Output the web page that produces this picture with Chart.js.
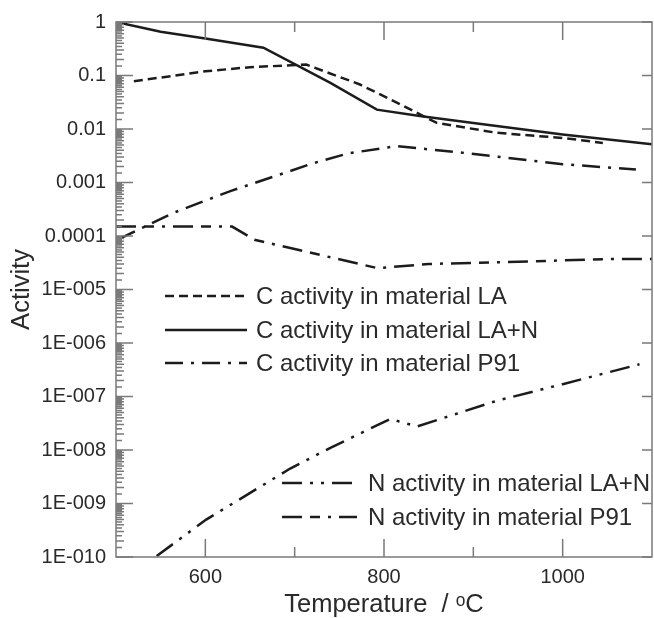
<!DOCTYPE html>
<html>
<head>
<meta charset="utf-8">
<script src="https://cdn.jsdelivr.net/npm/chart.js@4.4.0/dist/chart.umd.min.js"></script>
<style>
  html, body { margin: 0; padding: 0; background: #fff; }
  canvas { display: block; }
</style>
</head>
<body>
<canvas id="activityChart" width="654" height="618"></canvas>
<script>
// Temperatures (oC) and activities
const tempCLA = [520, 600, 650, 713, 773, 820, 859, 926, 1000, 1045];
const actCLA = [0.078, 0.12, 0.143, 0.16, 0.068, 0.028, 0.013, 0.0085, 0.0068, 0.0055];

const tempCLAN = [500, 550, 600, 630, 665, 740, 792, 840, 900, 1000, 1100];
const actCLAN = [1, 0.66, 0.49, 0.41, 0.33, 0.073, 0.023, 0.0175, 0.013, 0.0079, 0.0052];

const tempCP91 = [503, 564, 628, 680, 721, 760, 814, 888, 1000, 1082];
const actCP91 = [8.7e-5, 2.7e-4, 6.9e-4, 1.35e-3, 2.3e-3, 3.5e-3, 4.8e-3, 3.6e-3, 2.2e-3, 1.75e-3];

const tempNLAN = [500, 544, 601, 695, 740, 807, 837, 926, 1000, 1086];
const actNLAN = [3e-11, 1e-10, 5e-10, 4.5e-9, 1.1e-8, 3.8e-8, 2.75e-8, 8.3e-8, 1.7e-7, 4.0e-7];

const tempNP91 = [500, 630, 655, 700, 740, 793, 850, 950, 1050, 1100];
const actNP91 = [1.5e-4, 1.5e-4, 8.5e-5, 5.7e-5, 4e-5, 2.5e-5, 3.0e-5, 3.3e-5, 3.7e-5, 3.7e-5];

const seriesNames = [
    'C activity in material LA',
    'C activity in material LA+N',
    'C activity in material P91',
    'N activity in material LA+N',
    'N activity in material P91'
];

// Axis ticks
const xLabelTicks = [600, 800, 1000];
const xMinorTicks = [700, 900];
const yTickValues = [1, 0.1, 0.01, 0.001, 0.0001, 1e-5, 1e-6, 1e-7, 1e-8, 1e-9, 1e-10];
const yTickLabels = ['1', '0.1', '0.01', '0.001', '0.0001', '1E-005', '1E-006', '1E-007', '1E-008', '1E-009', '1E-010'];
const yMinorSteps = [1.5, 2, 2.5, 3, 3.5, 4, 4.5, 5, 5.5, 6, 6.5, 7, 7.5, 8, 8.5, 9, 9.5];

const toPoints = (xs, ys) => xs.map((x, i) => ({ x: x, y: ys[i] }));

const lineColor = '#1c1c1c';
const frameColor = '#7a7a7a';
const textColor = '#2a2a2a';
const fontFamily = "'Liberation Sans', Arial, sans-serif";

function makeDataset(label, xs, ys, dash) {
    return {
        label: label,
        data: toPoints(xs, ys),
        borderColor: lineColor,
        borderWidth: 2.5,
        borderDash: dash,
        pointRadius: 0,
        tension: 0,
        fill: false
    };
}

// Frame, inner ticks and the two legend boxes
const framePlugin = {
    id: 'framePlugin',
    afterDraw(chart) {
        const ctx = chart.ctx;
        const a = chart.chartArea;
        const xs = chart.scales.x;
        const ys = chart.scales.y;
        ctx.save();
        ctx.strokeStyle = frameColor;
        ctx.lineWidth = 1.5;
        ctx.setLineDash([]);
        ctx.strokeRect(a.left, a.top, a.right - a.left, a.bottom - a.top);

        ctx.beginPath();
        // x ticks bottom and top
        xLabelTicks.forEach(v => {
            const px = xs.getPixelForValue(v);
            ctx.moveTo(px, a.bottom); ctx.lineTo(px, a.bottom - 18);
            ctx.moveTo(px, a.top); ctx.lineTo(px, a.top + 18);
        });
        xMinorTicks.forEach(v => {
            const px = xs.getPixelForValue(v);
            ctx.moveTo(px, a.bottom); ctx.lineTo(px, a.bottom - 10);
            ctx.moveTo(px, a.top); ctx.lineTo(px, a.top + 10);
        });
        // y ticks left (major + minor) and right (major)
        yTickValues.forEach(v => {
            const py = ys.getPixelForValue(v);
            ctx.moveTo(a.left, py); ctx.lineTo(a.left + 17, py);
            ctx.moveTo(a.right, py); ctx.lineTo(a.right - 10, py);
            if (v < 1) {
                yMinorSteps.forEach(m => {
                    const pm = ys.getPixelForValue(v * m);
                    const len = Number.isInteger(m) ? 8 : 6;
                    ctx.moveTo(a.left, pm); ctx.lineTo(a.left + len, pm);
                });
            }
        });
        ctx.stroke();

        // legends
        const groups = [
            { items: [0, 1, 2], x0: 165, x1: 247, tx: 256, y: [296, 330, 363] },
            { items: [3, 4], x0: 282, x1: 357, tx: 368, y: [483, 517] }
        ];
        ctx.font = '24px ' + fontFamily;
        ctx.textBaseline = 'middle';
        ctx.textAlign = 'left';
        groups.forEach(g => {
            g.items.forEach((idx, r) => {
                const ds = chart.data.datasets[idx];
                ctx.strokeStyle = lineColor;
                ctx.lineWidth = 2.5;
                ctx.setLineDash(ds.borderDash);
                ctx.beginPath();
                ctx.moveTo(g.x0, g.y[r]);
                ctx.lineTo(g.x1, g.y[r]);
                ctx.stroke();
                ctx.setLineDash([]);
                ctx.fillStyle = textColor;
                ctx.fillText(ds.label, g.tx, g.y[r] + 1);
            });
        });
        ctx.restore();
    }
};

const ctx = document.getElementById('activityChart').getContext('2d');
const chart = new Chart(ctx, {
    type: 'line',
    data: {
        datasets: [
            makeDataset(seriesNames[0], tempCLA, actCLA, [9, 5]),
            makeDataset(seriesNames[1], tempCLAN, actCLAN, []),
            makeDataset(seriesNames[2], tempCP91, actCP91, [18, 8, 3, 8]),
            makeDataset(seriesNames[3], tempNLAN, actNLAN, [20, 8, 3, 8, 3, 8]),
            makeDataset(seriesNames[4], tempNP91, actNP91, [20, 8, 10, 8, 3, 8])
        ]
    },
    options: {
        responsive: false,
        animation: false,
        layout: { padding: { top: 21, right: 2, left: 0, bottom: 0 } },
        plugins: {
            legend: { display: false },
            tooltip: { enabled: false }
        },
        scales: {
            x: {
                type: 'linear',
                min: 500,
                max: 1100,
                grid: { display: false, drawTicks: false },
                border: { display: false },
                afterBuildTicks: scale => { scale.ticks = xLabelTicks.map(v => ({ value: v })); },
                afterFit: scale => { scale.height = 61; },
                ticks: {
                    color: textColor,
                    padding: 8,
                    font: { size: 20, family: fontFamily },
                    callback: v => String(v)
                },
                title: {
                    display: true,
                    text: 'Temperature  / \u1D52C',
                    color: textColor,
                    font: { size: 25.5, family: fontFamily, lineHeight: 1.0 },
                    padding: { top: 0, bottom: 0 }
                }
            },
            y: {
                type: 'logarithmic',
                min: 1e-10,
                max: 1,
                grid: { display: false, drawTicks: false },
                border: { display: false },
                afterBuildTicks: scale => { scale.ticks = yTickValues.map(v => ({ value: v })); },
                afterFit: scale => { scale.width = 116; },
                ticks: {
                    color: textColor,
                    padding: 10,
                    font: { size: 20, family: fontFamily },
                    callback: v => yTickLabels[yTickValues.indexOf(v)]
                },
                title: {
                    display: true,
                    text: 'Activity',
                    color: textColor,
                    font: { size: 25.5, family: fontFamily, lineHeight: 1.2 },
                    padding: { top: 7, bottom: 0 }
                }
            }
        }
    },
    plugins: [framePlugin]
});
</script>
</body>
</html>
